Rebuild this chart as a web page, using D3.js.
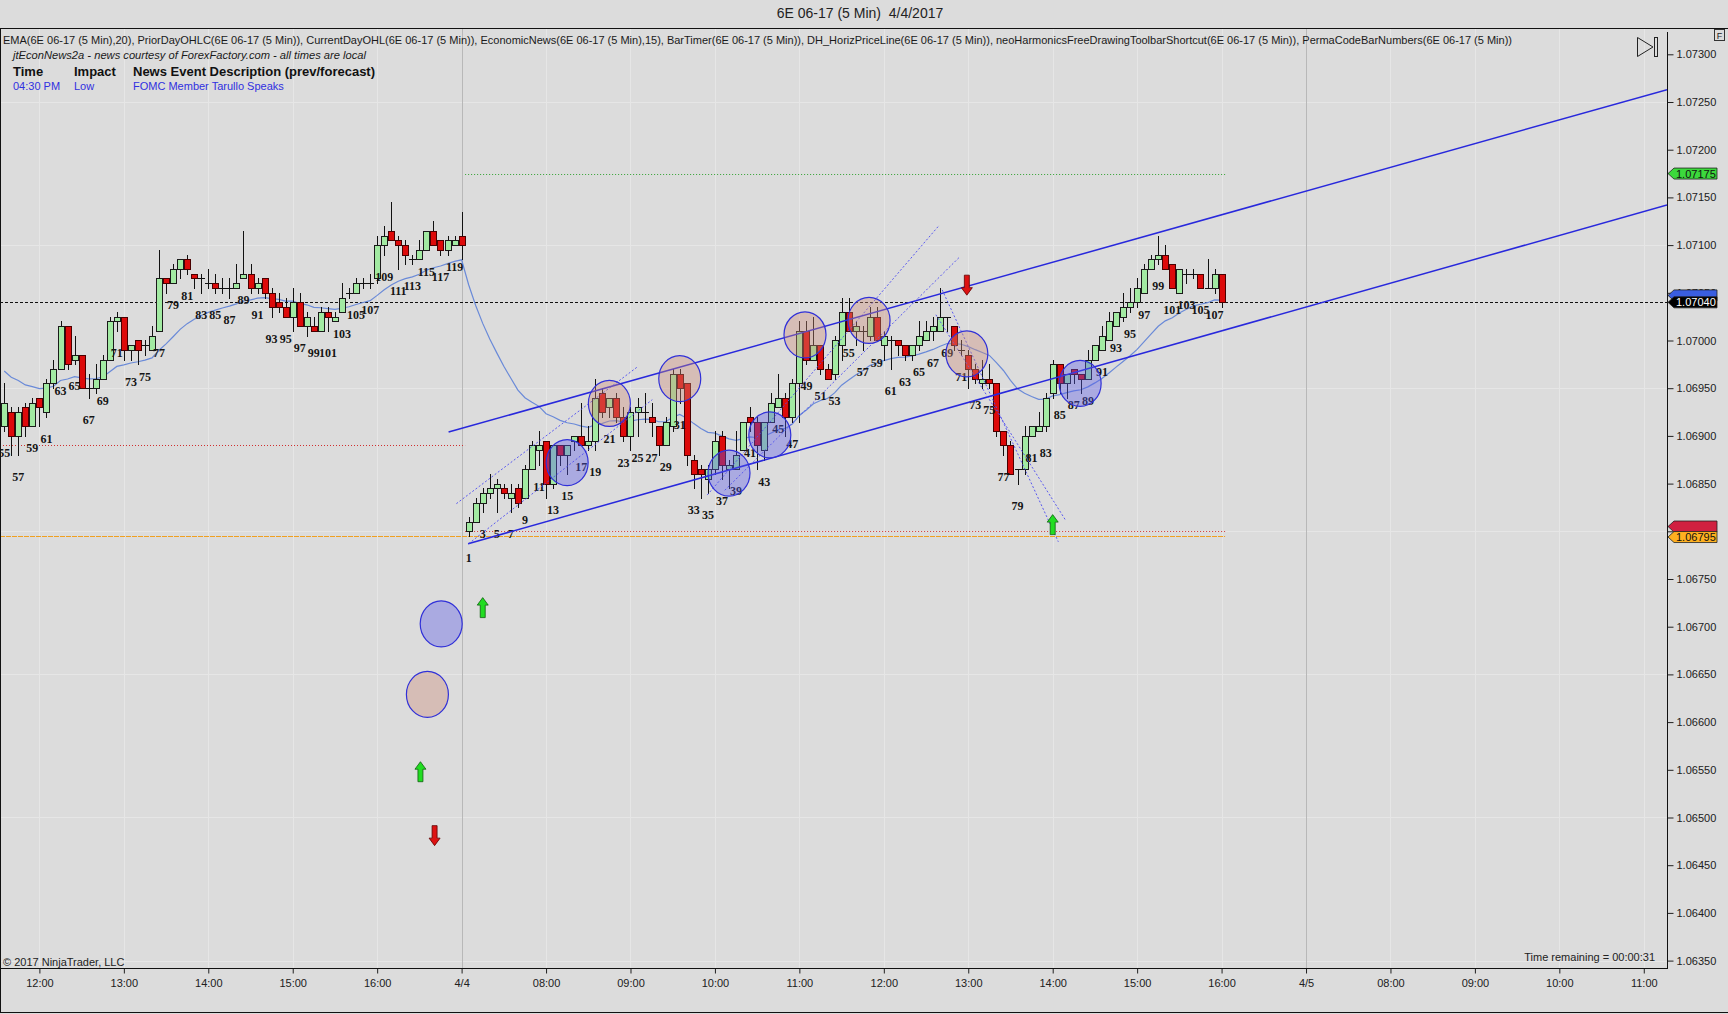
<!DOCTYPE html>
<html>
<head>
<meta charset="utf-8">
<title>6E 06-17 (5 Min) 4/4/2017</title>
<script src="https://d3js.org/d3.v7.min.js"></script>
<style>
  body { margin: 0; background: #dcdcdc; }
  svg { display: block; font-family: "Liberation Sans", Arial, sans-serif; }
  .num { font-family: "Liberation Serif", "Times New Roman", serif; font-weight: bold; font-size: 12px; fill: #151515; }
  .axis text { font-size: 11px; fill: #202020; font-family: "Liberation Sans", Arial, sans-serif; }
  .axis line { stroke: #202020; }
</style>
</head>
<body>
<div id="chart"></div>
<script>
// prior session, bars 55..120
const priorFirst = 55;
const priorOpen = [1.06910,1.06925,1.06900,1.06930,1.06910,1.06940,1.06925,1.06955,1.06970,1.07015,
  1.06980,1.06985,1.06950,1.06950,1.06960,1.06980,1.07020,1.07025,1.06990,1.07000,
  1.06995,1.06990,1.07010,1.07065,1.07060,1.07075,1.07085,1.07070,1.07065,1.07060,
  1.07060,1.07055,1.07055,1.07055,1.07065,1.07070,1.07055,1.07065,1.07050,1.07040,
  1.07035,1.07025,1.07040,1.07015,1.07015,1.07010,1.07030,1.07020,1.07030,1.07050,
  1.07050,1.07060,1.07060,1.07065,1.07100,1.07115,1.07105,1.07100,1.07085,1.07085,
  1.07095,1.07115,1.07105,1.07095,1.07100,1.07110];
const priorHigh = [1.06955,1.06930,1.06930,1.06935,1.06940,1.06940,1.06960,1.06980,1.07020,1.07015,
  1.07005,1.06985,1.06965,1.06975,1.06985,1.07025,1.07030,1.07025,1.06995,1.07000,
  1.07000,1.07015,1.07095,1.07065,1.07080,1.07085,1.07090,1.07070,1.07070,1.07075,
  1.07070,1.07065,1.07065,1.07080,1.07115,1.07080,1.07065,1.07065,1.07055,1.07050,
  1.07045,1.07055,1.07050,1.07030,1.07025,1.07035,1.07035,1.07030,1.07060,1.07055,
  1.07065,1.07065,1.07070,1.07110,1.07120,1.07145,1.07110,1.07105,1.07090,1.07105,
  1.07115,1.07125,1.07105,1.07110,1.07110,1.07135];
const priorLow = [1.06905,1.06880,1.06880,1.06900,1.06910,1.06910,1.06920,1.06950,1.06970,1.06970,
  1.06975,1.06950,1.06940,1.06945,1.06960,1.06980,1.07010,1.06980,1.06980,1.06975,
  1.06985,1.06990,1.07010,1.07050,1.07060,1.07065,1.07070,1.07055,1.07050,1.07055,
  1.07050,1.07050,1.07045,1.07055,1.07065,1.07050,1.07050,1.07045,1.07025,1.07030,
  1.07025,1.07010,1.07015,1.07005,1.07010,1.07010,1.07010,1.07020,1.07030,1.07045,
  1.07050,1.07055,1.07055,1.07060,1.07090,1.07105,1.07075,1.07080,1.07080,1.07085,
  1.07095,1.07100,1.07090,1.07090,1.07100,1.07085];
const priorClose = [1.06935,1.06900,1.06925,1.06910,1.06935,1.06930,1.06955,1.06970,1.07015,1.06975,
  1.06985,1.06950,1.06950,1.06960,1.06980,1.07020,1.07025,1.06990,1.06995,1.06990,
  1.06995,1.07005,1.07065,1.07060,1.07075,1.07085,1.07075,1.07065,1.07065,1.07060,
  1.07055,1.07055,1.07055,1.07060,1.07070,1.07055,1.07060,1.07050,1.07035,1.07035,
  1.07025,1.07040,1.07015,1.07025,1.07010,1.07030,1.07025,1.07025,1.07045,1.07050,
  1.07060,1.07060,1.07060,1.07100,1.07110,1.07105,1.07100,1.07090,1.07085,1.07095,
  1.07115,1.07100,1.07095,1.07105,1.07105,1.07100];

// current session 4/4, bars 1..108
const dayOpen = [1.06800,1.06810,1.06830,1.06840,1.06845,1.06845,1.06835,1.06845,1.06835,1.06865,
  1.06885,1.06895,1.06850,1.06890,1.06880,1.06895,1.06900,1.06890,1.06895,1.06945,
  1.06930,1.06940,1.06920,1.06900,1.06925,1.06925,1.06920,1.06910,1.06890,1.06910,
  1.06965,1.06955,1.06875,1.06865,1.06855,1.06865,1.06900,1.06865,1.06865,1.06885,
  1.06920,1.06915,1.06885,1.06915,1.06930,1.06940,1.06920,1.06955,1.07010,1.06980,
  1.06995,1.06970,1.06965,1.06995,1.07030,1.07010,1.07010,1.07005,1.07025,1.06995,
  1.07000,1.07000,1.06995,1.06985,1.06995,1.07000,1.07010,1.07010,1.07025,1.07015,
  1.06990,1.06985,1.06970,1.06955,1.06960,1.06955,1.06905,1.06890,1.06865,1.06865,
  1.06900,1.06905,1.06910,1.06945,1.06975,1.06955,1.06970,1.06965,1.06960,1.06980,
  1.06990,1.07000,1.07015,1.07025,1.07035,1.07040,1.07050,1.07075,1.07085,1.07090,
  1.07080,1.07050,1.07070,1.07070,1.07070,1.07055,1.07055,1.07070];
const dayHigh = [1.06815,1.06835,1.06845,1.06860,1.06855,1.06850,1.06850,1.06850,1.06870,1.06895,
  1.06905,1.06895,1.06890,1.06890,1.06890,1.06900,1.06935,1.06910,1.06960,1.06950,
  1.06940,1.06945,1.06930,1.06930,1.06940,1.06945,1.06935,1.06910,1.06920,1.06970,
  1.06970,1.06955,1.06880,1.06870,1.06870,1.06905,1.06905,1.06875,1.06905,1.06915,
  1.06930,1.06920,1.06915,1.06945,1.06965,1.06945,1.06960,1.07020,1.07020,1.07025,
  1.06995,1.06975,1.07005,1.07045,1.07045,1.07020,1.07015,1.07035,1.07035,1.07010,
  1.07005,1.07000,1.06995,1.06995,1.07020,1.07020,1.07025,1.07055,1.07025,1.07015,
  1.07000,1.06990,1.06975,1.06980,1.06975,1.06955,1.06905,1.06895,1.06865,1.06910,
  1.06910,1.06925,1.06945,1.06980,1.06975,1.06965,1.06970,1.06965,1.06990,1.06995,
  1.07015,1.07030,1.07030,1.07050,1.07055,1.07065,1.07080,1.07090,1.07110,1.07100,
  1.07080,1.07075,1.07075,1.07075,1.07070,1.07085,1.07075,1.07070];
const dayLow = [1.06795,1.06810,1.06820,1.06835,1.06820,1.06835,1.06820,1.06825,1.06835,1.06865,
  1.06870,1.06835,1.06845,1.06870,1.06860,1.06885,1.06890,1.06885,1.06885,1.06920,
  1.06920,1.06915,1.06895,1.06885,1.06900,1.06915,1.06900,1.06880,1.06890,1.06905,
  1.06935,1.06870,1.06845,1.06835,1.06840,1.06860,1.06855,1.06845,1.06865,1.06885,
  1.06905,1.06865,1.06875,1.06915,1.06930,1.06900,1.06915,1.06915,1.06975,1.06980,
  1.06965,1.06960,1.06960,1.06980,1.07010,1.06995,1.06990,1.07000,1.07000,1.06980,
  1.06970,1.06985,1.06980,1.06980,1.06990,1.07000,1.07000,1.07010,1.07010,1.06990,
  1.06985,1.06950,1.06955,1.06950,1.06950,1.06900,1.06880,1.06860,1.06850,1.06860,
  1.06900,1.06905,1.06905,1.06940,1.06945,1.06940,1.06955,1.06945,1.06960,1.06980,
  1.06990,1.07000,1.07015,1.07020,1.07030,1.07035,1.07050,1.07075,1.07080,1.07075,
  1.07055,1.07050,1.07060,1.07065,1.07055,1.07055,1.07050,1.07035];
const dayClose = [1.06810,1.06830,1.06840,1.06845,1.06850,1.06840,1.06840,1.06830,1.06865,1.06890,
  1.06890,1.06850,1.06890,1.06880,1.06890,1.06900,1.06890,1.06895,1.06940,1.06925,
  1.06940,1.06920,1.06900,1.06925,1.06930,1.06925,1.06915,1.06890,1.06915,1.06965,
  1.06950,1.06880,1.06860,1.06860,1.06865,1.06895,1.06870,1.06870,1.06880,1.06915,
  1.06915,1.06890,1.06915,1.06935,1.06940,1.06920,1.06955,1.07010,1.06980,1.06995,
  1.06970,1.06960,1.07000,1.07030,1.07010,1.07015,1.07010,1.07025,1.07000,1.07005,
  1.07000,1.06995,1.06985,1.06995,1.07005,1.07010,1.07015,1.07025,1.07025,1.06995,
  1.06990,1.06970,1.06960,1.06960,1.06955,1.06905,1.06890,1.06860,1.06865,1.06900,
  1.06910,1.06910,1.06940,1.06975,1.06955,1.06965,1.06965,1.06960,1.06980,1.06995,
  1.07005,1.07020,1.07030,1.07035,1.07040,1.07055,1.07075,1.07085,1.07090,1.07075,
  1.07055,1.07075,1.07070,1.07070,1.07055,1.07055,1.07070,1.07040];

const emaSeed = 1.06968;   // EMA(20) value at bar 55
const emaPeriod = 20;

// axis ticks (slot 0 = session break at 4/4)
const timeTicks = [-60,-48,-36,-24,-12,0,12,24,36,48,60,72,84,96,108,120,132,144,156,168];
const timeLabels = ['12:00','13:00','14:00','15:00','16:00','4/4','08:00','09:00','10:00','11:00',
  '12:00','13:00','14:00','15:00','16:00','4/5','08:00','09:00','10:00','11:00'];
const sessionBreaks = [0, 120];
const priceTicks = [1.0635,1.0640,1.0645,1.0650,1.0655,1.0660,1.0665,1.0670,1.0675,1.0680,
  1.0685,1.0690,1.0695,1.0700,1.0705,1.0710,1.0715,1.0720,1.0725,1.0730];
const priceGrid = [1.0635,1.0650,1.0665,1.0680,1.0695,1.0710,1.0725];

// level lines
const priorDayLow = 1.06890;
const dayPriorLow = 1.06800;
const dayPriorHigh = 1.07175;
const dayLowLevel = 1.06795;
const lastPrice = 1.07040;

// drawings: [slot1, price1, slot2, price2]
const channelLines = [[-1.85, 1.06904, 171.3, 1.07263], [0.92, 1.06787, 171.3, 1.07142]];
const dottedLines = [
  [-0.74, 1.06829, 25.1, 1.06973], [1.0, 1.06787, 27.1, 1.06938],
  [34.9, 1.06838, 67.9, 1.07121], [37.4, 1.06843, 70.7, 1.07087],
  [68.3, 1.07053, 84.8, 1.06789], [67.4, 1.07027, 85.8, 1.06812]];
const circleSlots  = [15, 21, 31, 38, 43.8, 48.8, 57.9, 71.8, 87.9, -2.9, -4.86];
const circlePrices = [1.06872, 1.06934, 1.06960, 1.06861, 1.06901, 1.07006, 1.07021, 1.06986, 1.06955, 1.06703, 1.06629];
const circleKinds  = ['b','r','r','b','b','r','r','r','b','b','r'];
const arrowSlots  = [71.8, 84.0, 3.0, -5.85, -3.84];
const arrowPrices = [1.07058, 1.06807, 1.06720, 1.06548, 1.06481];
const arrowDirs   = ['down','up','up','up','down'];

const W = 1728, H = 1014;
const plotRight = 1667, plotTop = 28, plotBottom = 968;

const bars = [];
priorOpen.forEach((o, i) => bars.push({n: priorFirst + i, slot: priorFirst + i - 120,
  o, h: priorHigh[i], l: priorLow[i], c: priorClose[i]}));
dayOpen.forEach((o, i) => bars.push({n: i + 1, slot: i + 1,
  o, h: dayHigh[i], l: dayLow[i], c: dayClose[i]}));

// EMA over the closes
const k = 2 / (emaPeriod + 1);
let e = emaSeed;
bars.forEach((b, i) => { if (i > 0) e = e + k * (b.c - e); b.ema = e; });

const x = d3.scaleLinear().domain([-65.6, 171.3]).range([0, plotRight]);
const y = d3.scaleLinear().domain([1.0635, 1.0730]).range([960.6, 54.3]);
const px = v => Math.round(v) + 0.5;

const svg = d3.select('#chart').append('svg').attr('width', W).attr('height', H);
svg.append('rect').attr('width', W).attr('height', H).attr('fill', '#dcdcdc');

svg.append('defs').append('clipPath').attr('id', 'plot')
  .append('rect').attr('x', 0).attr('y', plotTop).attr('width', plotRight).attr('height', plotBottom - plotTop);

// title
svg.append('text').attr('x', 860).attr('y', 18).attr('text-anchor', 'middle')
  .attr('font-size', 14).attr('fill', '#222').text('6E 06-17 (5 Min)\u00a0\u00a04/4/2017');

const plot = svg.append('g').attr('clip-path', 'url(#plot)');

// grid
plot.append('g').selectAll('line').data(priceGrid).join('line')
  .attr('x1', 0).attr('x2', plotRight).attr('y1', d => px(y(d))).attr('y2', d => px(y(d)))
  .attr('stroke', '#e6e6e6');
plot.append('g').selectAll('line').data(timeTicks.filter(t => !sessionBreaks.includes(t))).join('line')
  .attr('x1', d => px(x(d))).attr('x2', d => px(x(d))).attr('y1', plotTop).attr('y2', plotBottom)
  .attr('stroke', '#e6e6e6');
plot.append('g').selectAll('line').data(sessionBreaks).join('line')
  .attr('x1', d => px(x(d))).attr('x2', d => px(x(d))).attr('y1', plotTop).attr('y2', plotBottom)
  .attr('stroke', '#b8b8b8');

// level lines
const level = (s1, s2, p, color, dash) => plot.append('line')
  .attr('x1', x(s1)).attr('x2', x(s2)).attr('y1', px(y(p))).attr('y2', px(y(p)))
  .attr('stroke', color).attr('stroke-dasharray', dash);
level(-65.6, 0.5, priorDayLow, '#d03030', '1,2');
level(-65.6, 108.5, dayLowLevel, '#f0a020', '5,1');
level(0.5, 108.5, dayPriorLow, '#d03030', '1,2');
level(0.5, 108.5, dayPriorHigh, '#30a030', '1,2');
level(-65.6, 171.3, lastPrice, '#111', '3,2');

// EMA
plot.append('path').datum(bars)
  .attr('d', d3.line().x(d => x(d.slot)).y(d => y(d.ema)))
  .attr('fill', 'none').attr('stroke', '#6a8ad8').attr('stroke-width', 1.2);

// candles
const candle = plot.append('g').selectAll('g').data(bars).join('g');
candle.append('line')
  .attr('x1', d => px(x(d.slot))).attr('x2', d => px(x(d.slot)))
  .attr('y1', d => Math.round(y(d.h))).attr('y2', d => Math.round(y(d.l)) + 1)
  .attr('stroke', '#111');
candle.filter(d => d.o !== d.c).append('rect')
  .attr('x', d => Math.round(x(d.slot)) - 2.5).attr('width', 6)
  .attr('y', d => Math.round(y(Math.max(d.o, d.c))) + 0.5)
  .attr('height', d => Math.max(1, Math.round(y(Math.min(d.o, d.c))) - Math.round(y(Math.max(d.o, d.c)))))
  .attr('fill', d => d.c > d.o ? '#a2eaa2' : '#dd0a0a')
  .attr('stroke', d => d.c > d.o ? '#1a1a1a' : '#4a0000');
candle.filter(d => d.o === d.c).append('line')
  .attr('x1', d => Math.round(x(d.slot)) - 3).attr('x2', d => Math.round(x(d.slot)) + 4)
  .attr('y1', d => px(y(d.c))).attr('y2', d => px(y(d.c)))
  .attr('stroke', '#111');

// bar numbers
plot.append('g').selectAll('text').data(bars.filter(d => d.n % 2 === 1)).join('text')
  .attr('class', 'num').attr('text-anchor', 'middle')
  .attr('x', d => x(d.slot)).attr('y', d => y(d.l) + 26).text(d => d.n);

// channel + dotted lines
plot.append('g').selectAll('line').data(channelLines).join('line')
  .attr('x1', d => x(d[0])).attr('y1', d => y(d[1])).attr('x2', d => x(d[2])).attr('y2', d => y(d[3]))
  .attr('stroke', '#2828dc').attr('stroke-width', 1.5);
plot.append('g').selectAll('line').data(dottedLines).join('line')
  .attr('x1', d => x(d[0])).attr('y1', d => y(d[1])).attr('x2', d => x(d[2])).attr('y2', d => y(d[3]))
  .attr('stroke', '#4a4af0').attr('stroke-width', 0.9).attr('stroke-dasharray', '2,2');

// circles
plot.append('g').selectAll('ellipse').data(circleSlots).join('ellipse')
  .attr('cx', d => x(d)).attr('cy', (d, i) => y(circlePrices[i]))
  .attr('rx', 21).attr('ry', 23)
  .attr('fill', (d, i) => circleKinds[i] === 'b' ? 'rgba(90,90,235,0.38)' : 'rgba(205,140,120,0.38)')
  .attr('stroke', '#3030d8').attr('stroke-width', 1.2);

// arrows
const arrowPath = (dir) => {
  const p = 'M0,-10 L5.5,-2.5 L2.5,-2.5 L2.5,10 L-2.5,10 L-2.5,-2.5 L-5.5,-2.5 Z';
  return dir === 'up' ? p : 'M0,10 L5.5,2.5 L2.5,2.5 L2.5,-10 L-2.5,-10 L-2.5,2.5 L-5.5,2.5 Z';
};
plot.append('g').selectAll('path').data(arrowSlots).join('path')
  .attr('transform', (d, i) => `translate(${x(d)},${y(arrowPrices[i])})`)
  .attr('d', (d, i) => arrowPath(arrowDirs[i]))
  .attr('fill', (d, i) => arrowDirs[i] === 'up' ? '#22dd22' : '#dd1111')
  .attr('stroke', (d, i) => arrowDirs[i] === 'up' ? '#106010' : '#600000').attr('stroke-width', 0.8);

// axes
const yAxis = svg.append('g').attr('class', 'axis').attr('transform', `translate(${plotRight + 0.5},0)`)
  .call(d3.axisRight(y).tickValues(priceTicks).tickFormat(d3.format('.5f')).tickSize(6).tickSizeOuter(0).tickPadding(3));
yAxis.select('.domain').remove();

const xAxis = svg.append('g').attr('class', 'axis').attr('transform', `translate(0,${plotBottom + 0.5})`)
  .call(d3.axisBottom(x).tickValues(timeTicks).tickFormat((d, i) => timeLabels[i]).tickSize(5).tickSizeOuter(0).tickPadding(6));
xAxis.select('.domain').remove();

// frame
const frame = svg.append('g').attr('stroke', '#111').attr('fill', 'none');
frame.append('line').attr('x1', 0).attr('x2', W).attr('y1', plotTop + 0.5).attr('y2', plotTop + 0.5);
frame.append('line').attr('x1', 0).attr('x2', plotRight + 1).attr('y1', plotBottom + 0.5).attr('y2', plotBottom + 0.5);
frame.append('line').attr('x1', plotRight + 0.5).attr('x2', plotRight + 0.5).attr('y1', 32).attr('y2', plotBottom + 1);
frame.append('line').attr('x1', 0.5).attr('x2', 0.5).attr('y1', plotTop).attr('y2', H - 1);
frame.append('line').attr('x1', 0).attr('x2', W).attr('y1', H - 1.5).attr('y2', H - 1.5);
frame.append('rect').attr('x', 1714.5).attr('y', 29.5).attr('width', 10).attr('height', 11).attr('stroke', '#333');
svg.append('text').attr('x', 1719.5).attr('y', 38.5).attr('text-anchor', 'middle').attr('font-size', 9).attr('fill', '#222').text('F');

// price markers on the axis (the ones drawn first sit half hidden behind the later ones)
const marker = (p, fill, textFill, label) => {
  const cy = y(p);
  const g = svg.append('g');
  g.append('path')
    .attr('d', `M${plotRight + 1},${cy} L${plotRight + 7},${cy - 5.5} L1717,${cy - 5.5} L1717,${cy + 5.5} L${plotRight + 7},${cy + 5.5} Z`)
    .attr('fill', fill).attr('stroke', '#222').attr('stroke-width', 0.8);
  if (label) g.append('text').attr('x', plotRight + 9).attr('y', cy + 4).attr('font-size', 11).attr('fill', textFill).text(label);
};
const lastEma = bars[bars.length - 1].ema;
marker(lastEma + 0.00005, '#3a5ee0', '#fff', null);
marker(lastPrice, '#000', '#fff', d3.format('.5f')(lastPrice));
marker(dayPriorHigh, '#3cd83c', '#111', d3.format('.5f')(dayPriorHigh));
marker(dayPriorLow + 0.00005, '#d02040', '#fff', null);
marker(dayLowLevel - 0.00001, '#ffb020', '#111', '1.06795');

// bar timer icon
svg.append('path').attr('d', 'M1637.5,37.5 L1653,47 L1637.5,56.5 Z').attr('fill', 'none').attr('stroke', '#222');
svg.append('rect').attr('x', 1654.5).attr('y', 37.5).attr('width', 3).attr('height', 19).attr('fill', 'none').attr('stroke', '#222');

// indicator header + news panel
svg.append('text').attr('x', 3).attr('y', 44).attr('font-size', 11).attr('fill', '#1a1a1a')
  .attr('textLength', 1509).attr('lengthAdjust', 'spacingAndGlyphs')
  .text('EMA(6E 06-17 (5 Min),20), PriorDayOHLC(6E 06-17 (5 Min)), CurrentDayOHL(6E 06-17 (5 Min)), EconomicNews(6E 06-17 (5 Min),15), BarTimer(6E 06-17 (5 Min)), DH_HorizPriceLine(6E 06-17 (5 Min)), neoHarmonicsFreeDrawingToolbarShortcut(6E 06-17 (5 Min)), PermaCodeBarNumbers(6E 06-17 (5 Min))');
svg.append('text').attr('x', 13).attr('y', 59).attr('font-size', 10).attr('font-style', 'italic').attr('fill', '#1a1a1a')
  .attr('textLength', 353).attr('lengthAdjust', 'spacingAndGlyphs')
  .text('jtEconNews2a - news courtesy of ForexFactory.com - all times are local');
const newsCols = [13, 74, 133];
const newsHead = ['Time', 'Impact', 'News Event Description (prev/forecast)'];
const newsRow = ['04:30 PM', 'Low', 'FOMC Member Tarullo Speaks'];
svg.append('g').selectAll('text').data(newsHead).join('text')
  .attr('x', (d, i) => newsCols[i]).attr('y', 76).attr('font-size', 13).attr('font-weight', 'bold').attr('fill', '#111').text(d => d);
svg.append('g').selectAll('text').data(newsRow).join('text')
  .attr('x', (d, i) => newsCols[i]).attr('y', 90).attr('font-size', 11).attr('fill', '#3030e0').text(d => d);

// footer texts
svg.append('text').attr('x', 3).attr('y', 966).attr('font-size', 11).attr('fill', '#222').text('© 2017 NinjaTrader, LLC');
svg.append('text').attr('x', 1655).attr('y', 961).attr('text-anchor', 'end').attr('font-size', 11).attr('fill', '#222')
  .text('Time remaining = 00:00:31');
</script>
</body>
</html>
